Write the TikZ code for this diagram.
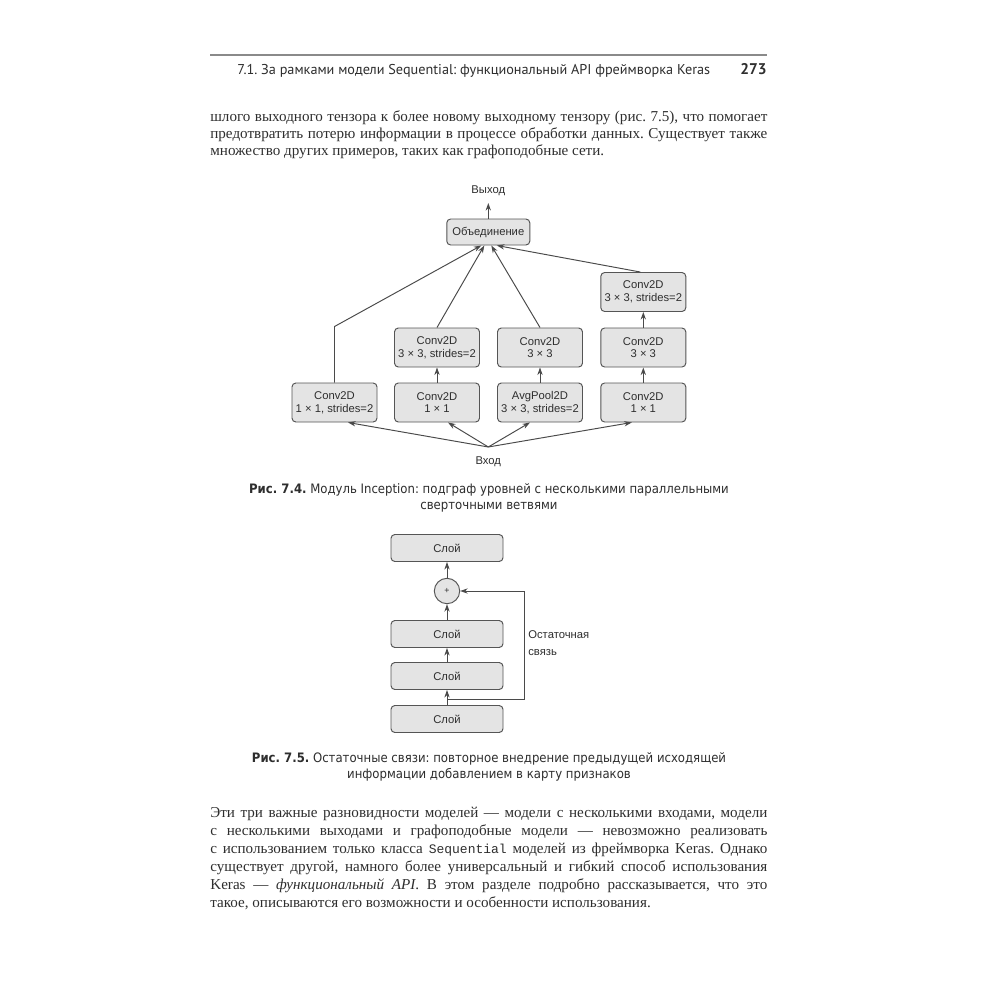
\documentclass[tikz,border=0pt]{standalone}
\usepackage{fontspec}
\setmainfont{Liberation Serif}
\setmonofont{Liberation Mono}[Scale=0.86]
\newfontfamily\hdrfont{PT Sans}
\newfontfamily\capfont{DejaVu Sans}[FakeStretch=0.9]
\newfontfamily\dgfont{Liberation Sans}
\usetikzlibrary{arrows.meta,calc}
\definecolor{boxfill}{HTML}{E4E4E4}
\definecolor{boxdraw}{HTML}{555555}
\definecolor{lineclr}{HTML}{4A4A4A}
\definecolor{txt}{HTML}{2E2E2E}
\definecolor{rulegray}{HTML}{8A8A8A}
\frenchspacing
\newcommand{\jline}[1]{\makebox[316.96pt][s]{#1}}
\tikzset{
  stagebox/.style={draw=boxdraw, fill=boxfill, rounded corners=2.2pt, line width=0.55pt,
    minimum width=17mm, minimum height=7.8mm, inner sep=0pt, align=center,
    font=\dgfont\fontsize{6.4}{7.2}\selectfont, text=txt},
  mergebox/.style={stagebox, minimum width=16.6mm, minimum height=5.2mm},
  layerbox/.style={stagebox, minimum width=22.4mm, minimum height=5.4mm},
  plusnode/.style={circle, draw=boxdraw, fill=boxfill, line width=0.55pt, minimum size=5.08mm,
    inner sep=0pt, font=\dgfont\fontsize{5}{6}\selectfont, text=txt},
  dglabel/.style={inner sep=0pt, font=\dgfont\fontsize{6.4}{9.6}\selectfont, text=txt},
  arr/.style={-{Stealth[length=4.3pt,width=3pt]}, line width=0.55pt, draw=lineclr},
  bodyline/.style={anchor=base west, inner sep=0pt, font=\fontsize{8.6}{10}\selectfont, text=txt},
  capline/.style={anchor=base, inner sep=0pt, font=\capfont\fontsize{7.4}{8}\selectfont, text=txt},
}
\begin{document}
\begin{tikzpicture}[x=0.2mm,y=-0.2mm]
\useasboundingbox (0,0) rectangle (1000,1000);
\fill[white] (0,0) rectangle (1000,1000);

% header
\draw[line width=1.2pt, rulegray] (210,55) -- (767,55);
\node[anchor=base west, inner sep=0pt, font=\hdrfont\fontsize{8.1}{9.6}\selectfont, text=txt] (hdr) at (237,74)
  {7.1. За рамками модели Sequential: функциональный API фреймворка Keras};
\node[anchor=base east, inner sep=0pt, font=\hdrfont\bfseries\fontsize{8.8}{9.6}\selectfont, text=txt] (pg) at (767,74) {273};

% paragraph 1
\node[bodyline] (p1a) at (210,121) {\jline{шлого выходного тензора к~более новому выходному тензору (рис.~7.5), что помогает}};
\node[bodyline] (p1b) at (210,138) {\jline{предотвратить потерю информации в процессе обработки данных. Существует также}};
\node[bodyline] (p1c) at (210,155) {множество других примеров, таких как графоподобные сети.};

% Figure 7.4
\node[mergebox] (merge) at (488.3,232) {Объединение};
\node[dglabel] (outlbl) at (488.3,191) {Выход};
\coordinate (outp) at (488.3,203);
\draw[arr] (merge.north) -- (outp);

\node[stagebox] (a1) at (334.5,402.5) {Conv2D\\1 × 1, strides=2};
\node[stagebox] (b1) at (437,402.5) {Conv2D\\1 × 1};
\node[stagebox] (b2) at (437,347.5) {Conv2D\\3 × 3, strides=2};
\node[stagebox] (c1) at (540,402.5) {AvgPool2D\\3 × 3, strides=2};
\node[stagebox] (c2) at (540,347.5) {Conv2D\\3 × 3};
\node[stagebox] (d1) at (643.3,402.5) {Conv2D\\1 × 1};
\node[stagebox] (d2) at (643.3,347.5) {Conv2D\\3 × 3};
\node[stagebox] (d3) at (643.3,292) {Conv2D\\3 × 3, strides=2};

\node[dglabel] (inlbl) at (488.3,462) {Вход};
\coordinate (hub) at (488.3,447);

\draw[arr] (hub) -- ($(a1.south)+(13.5,0)$);
\draw[arr] (hub) -- ($(b1.south)+(11,0)$);
\draw[arr] (hub) -- ($(c1.south)+(-10,0)$);
\draw[arr] (hub) -- ($(d1.south)+(-11.5,0)$);

\draw[arr] (b1.north) -- (b2.south);
\draw[arr] (c1.north) -- (c2.south);
\draw[arr] (d1.north) -- (d2.south);
\draw[arr] (d2.north) -- (d3.south);

\draw[arr] (a1.north) -- ++(0,-56) -- ($(merge.south)+(-7,0)$);
\draw[arr] (b2.north) -- ($(merge.south)+(-4,0)$);
\draw[arr] (c2.north) -- ($(merge.south)+(3,0)$);
\draw[arr] ($(d3.north)+(-3,0)$) -- ($(merge.south)+(8.5,0)$);

% caption 7.4
\node[capline] (cap4a) at (489,493) {\textbf{Рис. 7.4.} Модуль Inception: подграф уровней с несколькими параллельными};
\node[capline] (cap4b) at (489,509) {сверточными ветвями};

% Figure 7.5
\node[layerbox] (r1) at (447,548) {Слой};
\node[plusnode] (plus) at (447,591) {+};
\node[layerbox] (r2) at (447,634) {Слой};
\node[layerbox] (r3) at (447,676) {Слой};
\node[layerbox] (r4) at (447,719) {Слой};
\coordinate (br) at (447,699.5);

\draw[arr] (plus.north) -- (r1.south);
\draw[arr] (r2.north) -- (plus.south);
\draw[arr] (r3.north) -- (r2.south);
\draw[arr] (r4.north) -- (r3.south);
\draw[arr] (br) -- ++(77,0) |- (plus.east);

\node[dglabel, anchor=west, align=left] (reslbl) at (528,643.5) {Остаточная\\связь};

% caption 7.5
\node[capline] (cap5a) at (489,762) {\textbf{Рис. 7.5.} Остаточные связи: повторное внедрение предыдущей исходящей};
\node[capline] (cap5b) at (489,778) {информации добавлением в карту признаков};

% paragraph 2
\node[bodyline] (p2a) at (210,817) {\jline{Эти три важные разновидности моделей — модели с~несколькими входами, модели}};
\node[bodyline] (p2b) at (210,835) {\jline{с несколькими выходами и графоподобные модели — невозможно реализовать}};
\node[bodyline] (p2c) at (210,853) {\jline{с использованием только класса \texttt{Sequential} моделей из фреймворка Keras. Однако}};
\node[bodyline] (p2d) at (210,871) {\jline{существует другой, намного более универсальный и гибкий способ использования}};
\node[bodyline] (p2e) at (210,889) {\jline{Keras — \textit{функциональный API}. В этом разделе подробно рассказывается, что это}};
\node[bodyline] (p2f) at (210,907) {такое, описываются его возможности и особенности использования.};
\end{tikzpicture}
\end{document}
